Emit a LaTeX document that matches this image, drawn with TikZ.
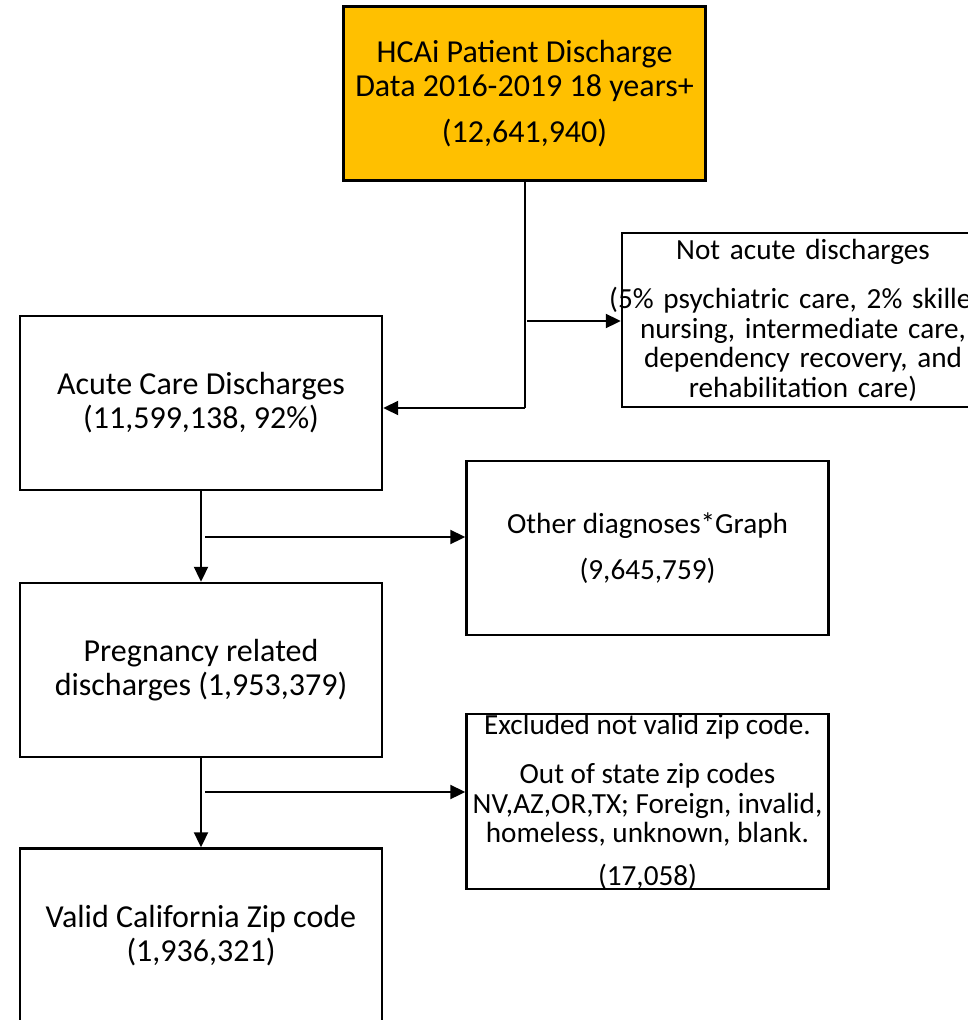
\documentclass[tikz,border=0pt]{standalone}
\usepackage{fontspec}
\setmainfont{Carlito}
\usetikzlibrary{arrows.meta}
\definecolor{hcaigold}{HTML}{FFC000}

\begin{document}
\begin{tikzpicture}[x=1pt,y=-1pt,
    box/.style={draw,line width=2.4pt,minimum width=362pt,minimum height=174pt,
      inner sep=0pt,align=center,font=\fontsize{32}{34}\selectfont},
    sidebox/.style={box,font=\fontsize{29.2}{29.5}\selectfont},
    link/.style={line width=2pt},
    arr/.style={link,-{Triangle[length=15pt,width=14pt]}}]
    \useasboundingbox (0,0) rectangle (968,1020);
    \clip (0,0) rectangle (968,1020);

    % main column
    \node[box,fill=hcaigold,font=\fontsize{32}{34.5}\selectfont] (hcai) at (524.5,93.5)
      {HCAi Patient Discharge\\Data 2016-2019 18 years+\\[11pt](12,641,940)};
    \node[box] (acute) at (201,403) {Acute Care Discharges\\(11,599,138, 92\%)};
    \node[box] (preg) at (201,670) {Pregnancy related\\discharges (1,953,379)};
    \node[box] (valid) at (201,935.5) {Valid California Zip code\\(1,936,321)};

    % excluded boxes
    \node[sidebox,text width=362pt] (notacute) at (803,320)
      {Not acute discharges\\[20pt]
       \makebox[\linewidth]{\hspace*{-10pt}(5\% psychiatric care, 2\% skilled}\\
       nursing, intermediate care,\\dependency recovery, and\\rehabilitation care)};
    \node[sidebox] (other) at (647.5,548) {Other diagnoses*Graph\\[17pt](9,645,759)};
    \node[sidebox] (excl) at (647.5,801.5)
      {Excluded not valid zip code.\\[20pt]Out of state zip codes\\
       NV,AZ,OR,TX; Foreign, invalid,\\homeless, unknown, blank.\\[13pt](17,058)};

    % connectors
    \coordinate (bend) at (524.5,408);
    \coordinate (tapa) at (527,321);
    \coordinate (tapb) at (205,537);
    \coordinate (tapc) at (205,792);
    \draw[link] (hcai.south) -- (bend);
    \draw[arr] (bend) -- (acute.east |- bend);
    \draw[arr] (tapa) -- (notacute.west |- tapa);
    \draw[arr] (acute.south) -- (preg.north);
    \draw[arr] (tapb) -- (other.west |- tapb);
    \draw[arr] (preg.south) -- (valid.north);
    \draw[arr] (tapc) -- (excl.west |- tapc);
\end{tikzpicture}
\end{document}
